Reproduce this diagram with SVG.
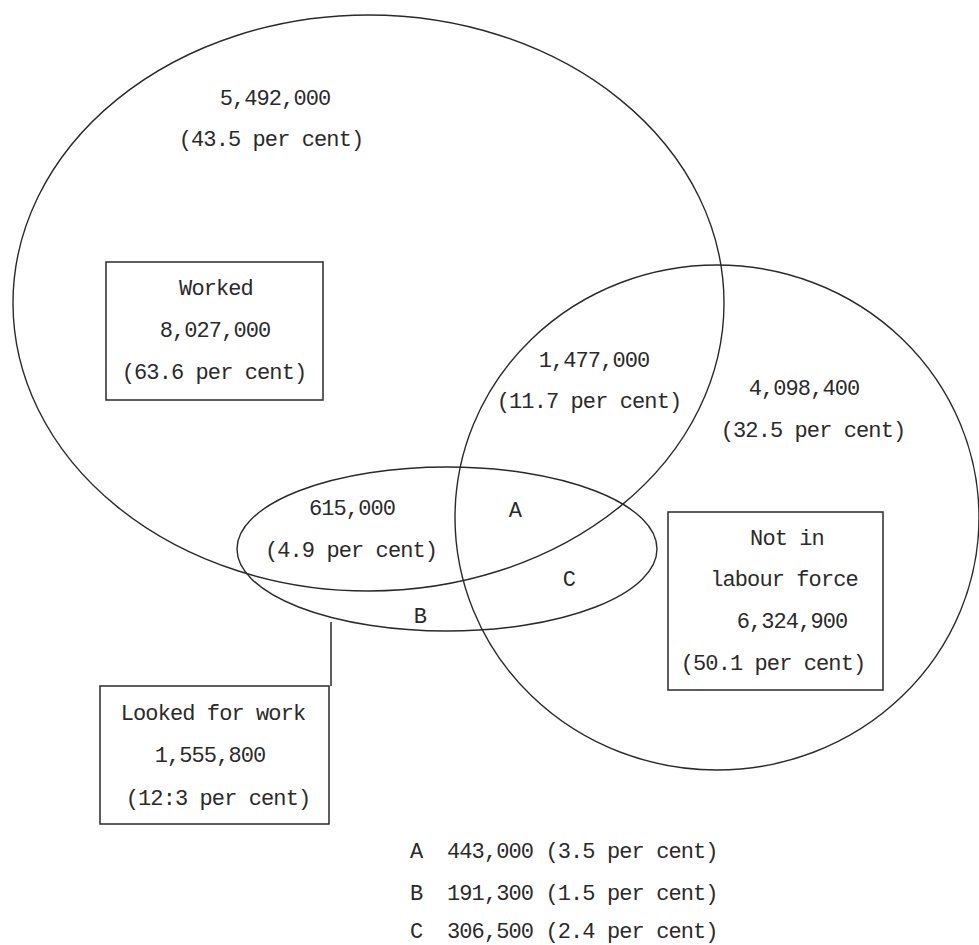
<svg xmlns="http://www.w3.org/2000/svg" width="979" height="945" viewBox="0 0 979 945">
<style>
.shape{fill:none;stroke:#2a2a2a;stroke-width:1.4}
.box{fill:none;stroke:#2a2a2a;stroke-width:1.5}
text{font-family:"Liberation Mono","Courier New",monospace;font-size:22px;letter-spacing:-0.9px;fill:#2a2a2a}
.c{text-anchor:middle}
</style>
<rect width="979" height="945" fill="#ffffff"/>
<g id="worked-set">
<ellipse class="shape" cx="368.5" cy="303" rx="355.5" ry="288"/>
<text class="c" x="275" y="105">5,492,000</text>
<text class="c" x="271" y="146">(43.5 per cent)</text>
</g>
<g id="not-in-labour-force-set">
<ellipse class="shape" cx="717" cy="517.5" rx="262" ry="252.5"/>
<text class="c" x="804" y="395">4,098,400</text>
<text class="c" x="813" y="437">(32.5 per cent)</text>
</g>
<g id="looked-for-work-set">
<ellipse class="shape" cx="447" cy="549" rx="210" ry="82"/>
<text class="c" x="352" y="515">615,000</text>
<text class="c" x="351" y="557">(4.9 per cent)</text>
</g>
<g id="worked-notinlf-overlap">
<text class="c" x="594" y="367">1,477,000</text>
<text class="c" x="589" y="408">(11.7 per cent)</text>
</g>
<g id="region-a"><text class="c" x="515" y="517">A</text></g>
<g id="region-b"><text class="c" x="420" y="623">B</text></g>
<g id="region-c"><text class="c" x="569" y="586">C</text></g>
<g id="worked-box">
<rect class="box" x="106" y="262" width="217" height="138"/>
<text class="c" x="216" y="295">Worked</text>
<text class="c" x="215" y="337">8,027,000</text>
<text class="c" x="214" y="379">(63.6 per cent)</text>
</g>
<g id="not-in-labour-force-box">
<rect class="box" x="668" y="512" width="215" height="178"/>
<text class="c" x="787" y="545">Not in</text>
<text class="c" x="784" y="586">labour force</text>
<text class="c" x="792" y="628">6,324,900</text>
<text class="c" x="773" y="670">(50.1 per cent)</text>
</g>
<g id="looked-for-work-box">
<rect class="box" x="100" y="686" width="229" height="138"/>
<text class="c" x="213" y="720">Looked for work</text>
<text class="c" x="210" y="762">1,555,800</text>
<text class="c" x="218" y="805">(12:3 per cent)</text>
</g>
<g id="connectors">
<line class="box" x1="331" y1="622" x2="331" y2="686"/>
</g>
<g id="legend">
<text x="410" y="858">A</text>
<text x="447" y="858">443,000 (3.5 per cent)</text>
<text x="410" y="900">B</text>
<text x="447" y="900">191,300 (1.5 per cent)</text>
<text x="410" y="938">C</text>
<text x="447" y="938">306,500 (2.4 per cent)</text>
</g>
</svg>
